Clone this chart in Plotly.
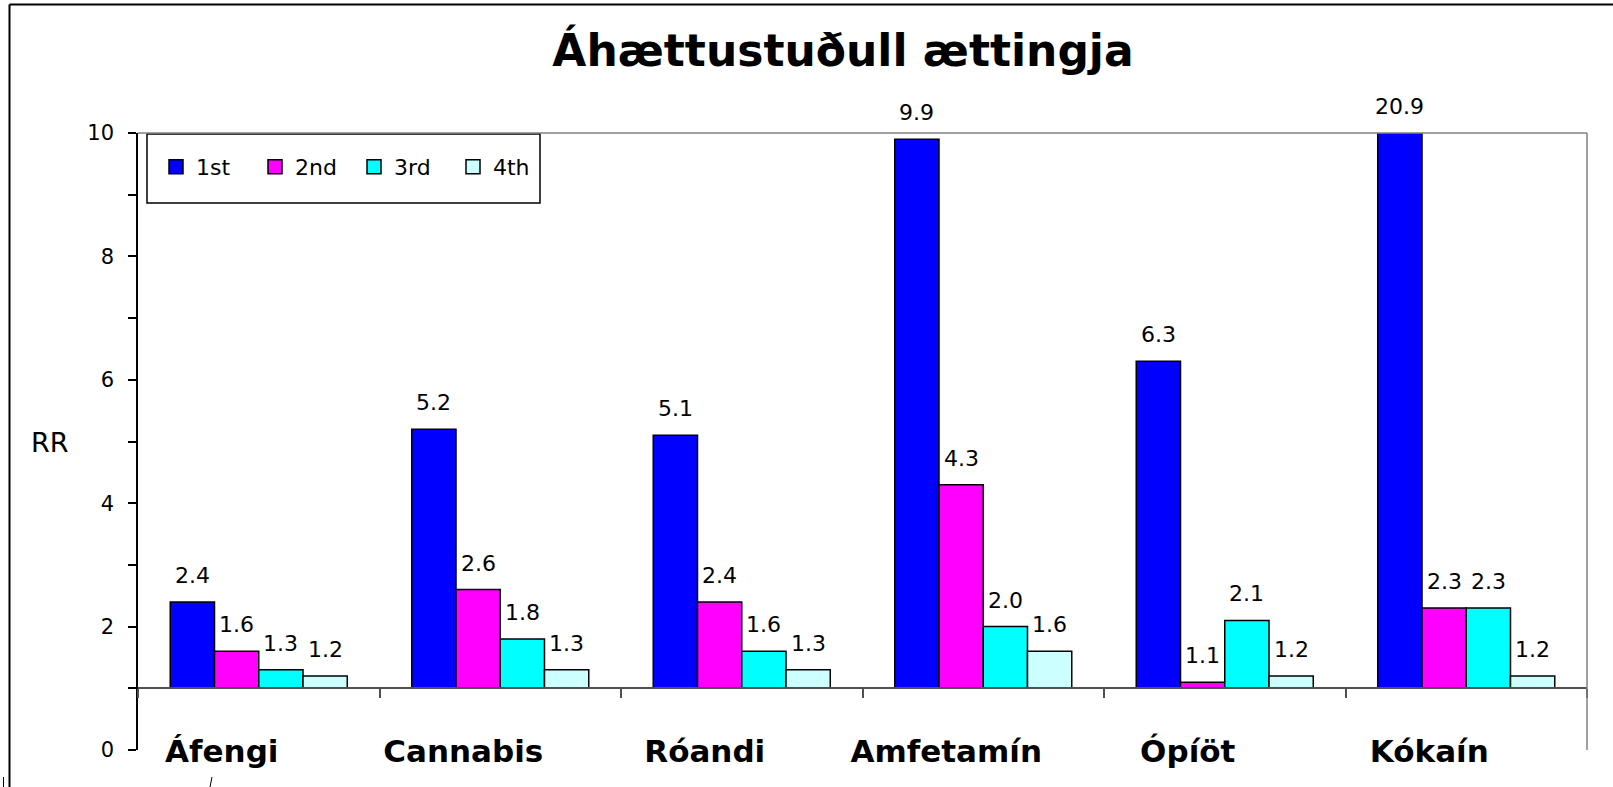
"""Relative risk bar chart for relatives, rebuilt with Plotly."""

from __future__ import annotations

import plotly.graph_objects as go

# --- data ---------------------------------------------------------------
categories = ["Áfengi", "Cannabis", "Róandi", "Amfetamín", "Ópíöt", "Kókaín"]
series_names = ["1st", "2nd", "3rd", "4th"]
rr_1st = [2.4, 5.2, 5.1, 9.9, 6.3, 20.9]
rr_2nd = [1.6, 2.6, 2.4, 4.3, 1.1, 2.3]
rr_3rd = [1.3, 1.8, 1.6, 2.0, 2.1, 2.3]
rr_4th = [1.2, 1.3, 1.3, 1.6, 1.2, 1.2]
y_tick_values = [0, 1, 2, 3, 4, 5, 6, 7, 8, 9, 10]
y_tick_labels = ["0", "", "2", "", "4", "", "6", "", "8", "", "10"]

title_text = "Áhættustuðull ættingja"
y_label = "RR"

# --- styling ------------------------------------------------------------
colors = ["#0000FF", "#FF00FF", "#00FFFF", "#CCFFFF"]
FONT = "DejaVu Sans"
BASELINE = 1
Y_MAX = 10
WIDTH, HEIGHT = 1613, 787
MARGIN = {"l": 138, "r": 26, "t": 133, "b": 37}
BARGAP = 0.267

plot_w = WIDTH - MARGIN["l"] - MARGIN["r"]
plot_h = HEIGHT - MARGIN["t"] - MARGIN["b"]


def px_x(x: float) -> float:
  """Convert a pixel x position into paper coordinates."""
  return (x - MARGIN["l"]) / plot_w


def px_y(y: float) -> float:
  """Convert a pixel y position into paper coordinates."""
  return (HEIGHT - MARGIN["b"] - y) / plot_h


def paper_line(x0: float, y0: float, x1: float, y1: float, color: str, width: float = 1) -> dict:
  """Build a line shape from pixel positions."""
  return {
    "type": "line", "xref": "paper", "yref": "paper",
    "x0": px_x(x0), "y0": px_y(y0), "x1": px_x(x1), "y1": px_y(y1),
    "line": {"color": color, "width": width},
  }


fig = go.Figure()

all_series = [rr_1st, rr_2nd, rr_3rd, rr_4th]
for name, values, color in zip(series_names, all_series, colors):
  fig.add_trace(go.Bar(
    name=name,
    x=categories,
    y=[v - BASELINE for v in values],
    base=BASELINE,
    marker={"color": color, "line": {"color": "black", "width": 1.5}},
    hovertext=[f"{v:.1f}" for v in values],
    hoverinfo="text+name",
    legendgroup=name,
    showlegend=False,
  ))

# legend entries with bigger square swatches than the default bar ones
for name, color in zip(series_names, colors):
  fig.add_trace(go.Scatter(
    name=name,
    x=[None],
    y=[None],
    mode="markers",
    marker={"symbol": "square", "size": 14, "color": color, "line": {"color": "black", "width": 1.5}},
    legendgroup=name,
    showlegend=True,
  ))

# value labels above each bar (clipped bars get their label at the top)
bar_px = plot_w / len(categories) * (1 - BARGAP) / len(series_names)
annotations = []
for i, values in enumerate(all_series):
  for cat, v in zip(categories, values):
    annotations.append({
      "x": cat, "y": min(v, Y_MAX), "xref": "x", "yref": "y",
      "text": f"{v:.1f}", "showarrow": False,
      "xanchor": "center", "yanchor": "bottom",
      "xshift": (i - (len(series_names) - 1) / 2) * bar_px, "yshift": 12,
      "font": {"family": FONT, "size": 22, "color": "black"},
    })

annotations.append({
  "x": px_x(50), "y": px_y(442), "xref": "paper", "yref": "paper",
  "text": y_label, "showarrow": False, "xanchor": "center", "yanchor": "middle",
  "font": {"family": FONT, "size": 27, "color": "black"},
})

shapes = [
  # outer chart border (top and left, runs off the page on the other sides)
  paper_line(9.5, 4.5, WIDTH + 5, 4.5, "black", 2),
  paper_line(9.5, 4.5, 9.5, HEIGHT + 5, "black", 2),
  # plot area border, top and right
  paper_line(MARGIN["l"], MARGIN["t"], WIDTH - MARGIN["r"], MARGIN["t"], "#808080", 1.5),
  paper_line(WIDTH - MARGIN["r"], MARGIN["t"], WIDTH - MARGIN["r"], HEIGHT - MARGIN["b"], "#808080", 1.5),
  # stray marks near the bottom edge
  paper_line(3.5, 777, 3.5, HEIGHT + 5, "black", 1),
  paper_line(212, 777, 209, HEIGHT + 5, "black", 1),
  # legend box
  {
    "type": "rect", "xref": "paper", "yref": "paper",
    "x0": px_x(147), "y0": px_y(203), "x1": px_x(540), "y1": px_y(134),
    "line": {"color": "black", "width": 1.5}, "fillcolor": "white", "layer": "below",
  },
]

fig.update_layout(
  width=WIDTH,
  height=HEIGHT,
  margin=MARGIN,
  paper_bgcolor="white",
  plot_bgcolor="rgba(0,0,0,0)",
  barmode="group",
  bargap=BARGAP,
  bargroupgap=0,
  title={
    "text": f"<b>{title_text}</b>",
    "x": 843 / WIDTH, "xanchor": "center", "xref": "container",
    "y": 1 - 51 / HEIGHT, "yanchor": "middle", "yref": "container",
    "font": {"family": FONT, "size": 44, "color": "black"},
  },
  font={"family": FONT, "color": "black"},
  showlegend=True,
  legend={
    "orientation": "h",
    "x": px_x(156), "xanchor": "left",
    "y": px_y(167), "yanchor": "middle",
    "entrywidth": 54, "entrywidthmode": "pixels",
    "font": {"family": FONT, "size": 22, "color": "black"},
    "bgcolor": "rgba(0,0,0,0)", "borderwidth": 0,
    "traceorder": "normal",
  },
  xaxis={
    "type": "category",
    "anchor": "free",
    "position": BASELINE / Y_MAX,
    "showline": True, "linecolor": "#505050", "linewidth": 1.5,
    "ticks": "outside", "tickson": "boundaries", "ticklen": 9,
    "tickcolor": "#505050", "tickwidth": 1.5,
    "tickfont": {"family": FONT, "size": 31, "color": "black", "weight": "bold"},
    "ticklabelstandoff": 36, "ticklabelshift": -37,
    "showgrid": False, "zeroline": False,
  },
  yaxis={
    "range": [0, Y_MAX],
    "tickmode": "array", "tickvals": y_tick_values, "ticktext": y_tick_labels,
    "ticks": "outside", "ticklen": 8, "tickcolor": "black", "tickwidth": 1.5,
    "showline": True, "linecolor": "black", "linewidth": 1.5,
    "tickfont": {"family": FONT, "size": 21, "color": "black"},
    "ticklabelstandoff": 10,
    "showgrid": False, "zeroline": False,
  },
  annotations=annotations,
  shapes=shapes,
)

# the page's default body margin would push the whole figure 8px down and right
fig.write_html(
  "out.html",
  config={"displayModeBar": False},
  post_script="document.body.style.margin = '0';",
)
